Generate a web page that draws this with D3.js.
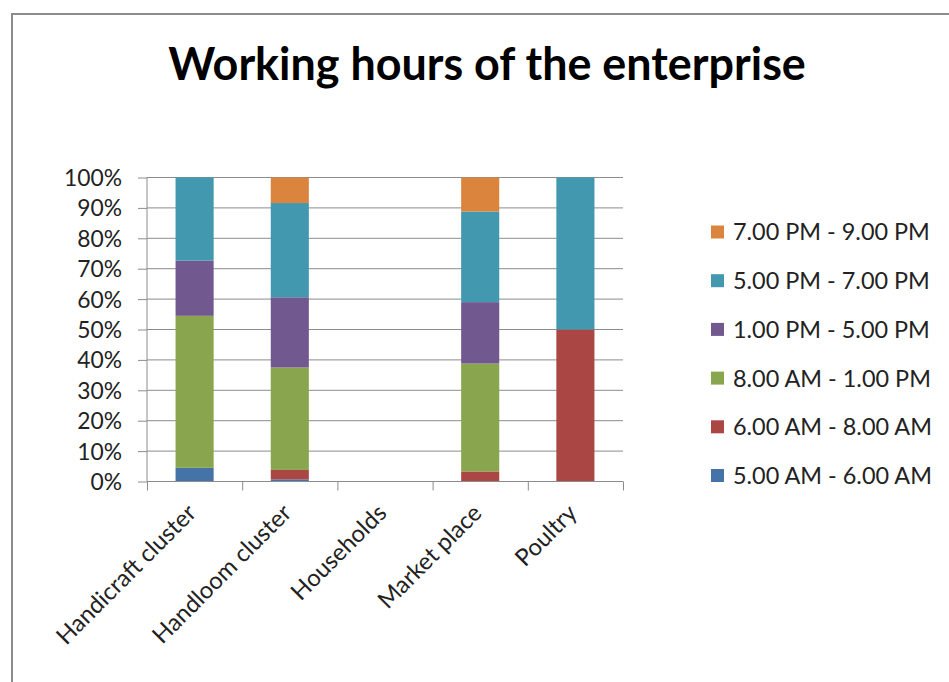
<!DOCTYPE html>
<html>
<head>
<meta charset="utf-8">
<script src="https://cdn.jsdelivr.net/npm/d3@7"></script>
<style>
  html, body { margin: 0; padding: 0; background: #fff; }
  svg { display: block; }
  text { font-family: Lato, "Open Sans", sans-serif; fill: #222; }
</style>
</head>
<body>
<div id="chart"></div>
<script>
// ===== Data =====
const categories = ['Handicraft cluster', 'Handloom cluster', 'Households', 'Market place', 'Poultry'];
const seriesNames = ['5.00 AM - 6.00 AM', '6.00 AM - 8.00 AM', '8.00 AM - 1.00 PM',
                     '1.00 PM - 5.00 PM', '5.00 PM - 7.00 PM', '7.00 PM - 9.00 PM'];
const seriesColors = ['#4572A7', '#AA4643', '#89A54E', '#71588F', '#4198AF', '#DB843D'];
// share (%) per category, one array per series
const s0500 = [4.5, 0.7, 0, 0, 0];
const s0600 = [0, 3.1, 0, 3.3, 50];
const s0800 = [50, 33.7, 0, 35.5, 0];
const s1300 = [18.2, 23.1, 0, 20.2, 0];
const s1700 = [27.3, 31.0, 0, 29.8, 50];
const s1900 = [0, 8.4, 0, 11.2, 0];
const yTicks = [0, 10, 20, 30, 40, 50, 60, 70, 80, 90, 100];

const seriesValues = [s0500, s0600, s0800, s1300, s1700, s1900];

const W = 949, H = 682;
const plot = { left: 147, right: 623, top: 177.5, bottom: 481.5 };

const svg = d3.select('#chart').append('svg')
    .attr('width', W).attr('height', H);

// frame of the chart area
svg.append('rect')
    .attr('x', 12).attr('y', 14)
    .attr('width', W + 10).attr('height', H + 10)
    .attr('fill', '#fff')
    .attr('stroke', '#8c8c8c')
    .attr('stroke-width', 2);

// scale a text's font size so it spans a given width
function fitText(sel, width) {
    sel.style('font-size', '100px');
    const len = sel.node().getComputedTextLength();
    const size = 100 * width / len;
    sel.style('font-size', size + 'px');
    return size;
}

// ===== Title =====
const title = svg.append('text')
    .attr('x', 487).attr('y', 80)
    .attr('text-anchor', 'middle')
    .style('font-weight', 'bold')
    .style('fill', '#000')
    .text('Working hours of the enterprise');
fitText(title, 638);

// ===== Scales =====
const x = d3.scaleBand()
    .domain(categories)
    .range([plot.left, plot.right])
    .paddingInner(0.6)
    .paddingOuter(0.3);

const y = d3.scaleLinear()
    .domain([0, 100])
    .range([plot.bottom, plot.top]);

// gridlines
svg.append('g')
    .selectAll('line')
    .data(yTicks)
    .join('line')
    .attr('x1', plot.left).attr('x2', plot.right)
    .attr('y1', d => y(d)).attr('y2', d => y(d))
    .attr('stroke', '#8c8c8c')
    .attr('stroke-width', 1);

// ===== Stacked bars =====
const rows = categories.map((c, i) => {
    const row = { category: c };
    seriesNames.forEach((s, j) => { row[s] = seriesValues[j][i]; });
    return row;
});
const stacked = d3.stack().keys(seriesNames)(rows);

svg.append('g')
    .selectAll('g')
    .data(stacked)
    .join('g')
    .attr('fill', (d, i) => seriesColors[i])
    .selectAll('rect')
    .data(d => d.filter(p => p[1] - p[0] > 0))
    .join('rect')
    .attr('x', d => x(d.data.category))
    .attr('width', x.bandwidth())
    .attr('y', d => y(d[1]))
    .attr('height', d => y(d[0]) - y(d[1]));

// ===== Y axis =====
const yAxis = svg.append('g')
    .attr('transform', `translate(${plot.left},0)`)
    .call(d3.axisLeft(y).tickValues(yTicks).tickFormat(d => d + '%').tickSize(9).tickPadding(16));
yAxis.select('.domain').attr('stroke', '#8c8c8c').attr('d', `M-0,${plot.top}V${plot.bottom}`);
yAxis.selectAll('.tick line').attr('stroke', '#8c8c8c');
const yLabels = yAxis.selectAll('.tick text')
    .style('fill', '#222')
    .attr('dy', '0.35em');
const ySize = fitText(yLabels.filter(d => d === 100), 58);
yLabels.style('font-size', ySize + 'px');

// ===== X axis =====
const xAxis = svg.append('g');
xAxis.append('line')
    .attr('x1', plot.left).attr('x2', plot.right)
    .attr('y1', plot.bottom).attr('y2', plot.bottom)
    .attr('stroke', '#8c8c8c');
const bandStep = (plot.right - plot.left) / categories.length;
xAxis.selectAll('line.tick')
    .data(d3.range(categories.length + 1))
    .join('line')
    .attr('class', 'tick')
    .attr('x1', i => plot.left + i * bandStep + 0.5)
    .attr('x2', i => plot.left + i * bandStep + 0.5)
    .attr('y1', plot.bottom).attr('y2', plot.bottom + 9)
    .attr('stroke', '#8c8c8c');

const xLabels = xAxis.selectAll('text')
    .data(categories)
    .join('text')
    .attr('text-anchor', 'end')
    .attr('transform', d => `translate(${x(d) + x.bandwidth() / 2 + 3},${plot.bottom + 33}) rotate(-45)`)
    .text(d => d);
const xSize = fitText(xLabels.filter(d => d === 'Handicraft cluster'), 186);
xLabels.style('font-size', xSize + 'px');

// ===== Legend =====
const legendOrder = seriesNames.map((s, i) => i).reverse();
const legend = svg.append('g')
    .selectAll('g')
    .data(legendOrder)
    .join('g')
    .attr('transform', (d, k) => `translate(711,${232 + k * 48.7})`);
legend.append('rect')
    .attr('x', 0).attr('y', -6.5)
    .attr('width', 13).attr('height', 13)
    .attr('fill', i => seriesColors[i]);
const legendText = legend.append('text')
    .attr('x', 22)
    .attr('dy', '0.36em')
    .text(i => seriesNames[i]);
const lSize = fitText(legendText.filter(i => i === 5), 197);
legendText.style('font-size', lSize + 'px');
</script>
</body>
</html>
